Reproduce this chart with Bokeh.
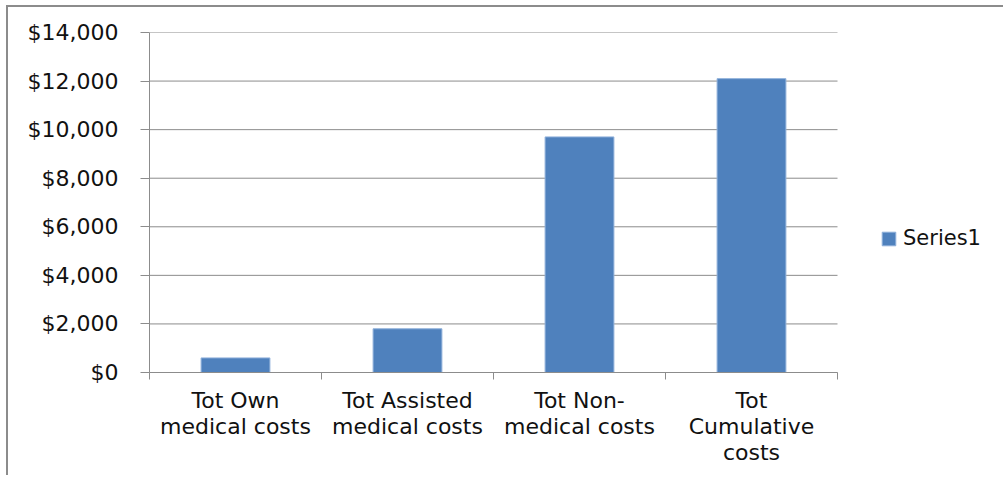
from bokeh.plotting import figure
from bokeh.models import Range1d, FixedTicker, NumeralTickFormatter, ColumnDataSource, Legend, LegendItem
from bokeh.embed import file_html
from bokeh.resources import INLINE

categories = ["Tot Own\nmedical costs", "Tot Assisted\nmedical costs", "Tot Non-\nmedical costs", "Tot\nCumulative\ncosts"]
values = [600, 1800, 9700, 12100]
series_name = "Series1"
y_ticks = [0, 2000, 4000, 6000, 8000, 10000, 12000, 14000]

n = len(categories)
xs = [i + 0.5 for i in range(n)]
src = ColumnDataSource(dict(x=xs, top=values, cat=categories))
grid_src = ColumnDataSource(dict(x0=[0] * len(y_ticks), x1=[n] * len(y_ticks), y=y_ticks))

FONT = "DejaVu Sans"
GRAY = "#8c8c8c"

# frame: 688 px for the categories, extra room on the right holds the legend
x_end = n * 856 / 688

p = figure(width=997, height=470, x_range=Range1d(0, x_end), y_range=Range1d(0, 14000),
           output_backend="svg", toolbar_location=None,
           min_border_left=141, min_border_right=0, min_border_top=25, min_border_bottom=105,
           styles={"margin-left": "6px", "margin-top": "5px",
                   "border-left": "2px solid #8c8c8c", "border-top": "2px solid #8c8c8c"})
p.outline_line_color = None
p.background_fill_color = "white"
p.border_fill_color = "white"

# horizontal gridlines limited to the category area
p.segment(x0="x0", x1="x1", y0="y", y1="y", source=grid_src, line_color=GRAY, line_width=1)

r = p.vbar(x="x", top="top", width=0.4, source=src, fill_color="#4F81BD", line_color="#8FB0DA", line_width=1)

# y axis
p.yaxis.ticker = FixedTicker(ticks=y_ticks)
p.yaxis.formatter = NumeralTickFormatter(format="$0,0")
p.yaxis.axis_line_color = GRAY
p.yaxis.major_tick_line_color = GRAY
p.yaxis.major_tick_out = 9
p.yaxis.major_tick_in = 0
p.yaxis.minor_tick_line_color = None
p.yaxis.major_label_text_font = FONT
p.yaxis.major_label_text_font_size = "22px"
p.yaxis.major_label_text_color = "#111111"
p.yaxis.major_label_standoff = 22

# x axis
p.xaxis.bounds = (0, n)
p.xaxis.ticker = FixedTicker(ticks=xs, minor_ticks=list(range(n + 1)))
p.xaxis.major_label_overrides = {x: c for x, c in zip(xs, categories)}
p.xaxis.axis_line_color = GRAY
p.xaxis.major_tick_line_color = None
p.xaxis.minor_tick_line_color = GRAY
p.xaxis.minor_tick_out = 7
p.xaxis.minor_tick_in = 0
p.xaxis.major_label_text_font = FONT
p.xaxis.major_label_text_font_size = "22px"
p.xaxis.major_label_text_color = "#111111"
p.xaxis.major_label_text_line_height = 1.05
p.xaxis.major_label_standoff = 8

p.xgrid.grid_line_color = None
p.ygrid.grid_line_color = None

legend = Legend(items=[LegendItem(label=series_name, renderers=[r])], location=(731, 122),
                border_line_color=None, background_fill_alpha=0, padding=0, margin=0,
                label_text_font=FONT, label_text_font_size="21px", label_text_color="#111111",
                glyph_width=17, glyph_height=17, label_standoff=6)
p.add_layout(legend)

open("out.html", "w").write(file_html(p, INLINE))
